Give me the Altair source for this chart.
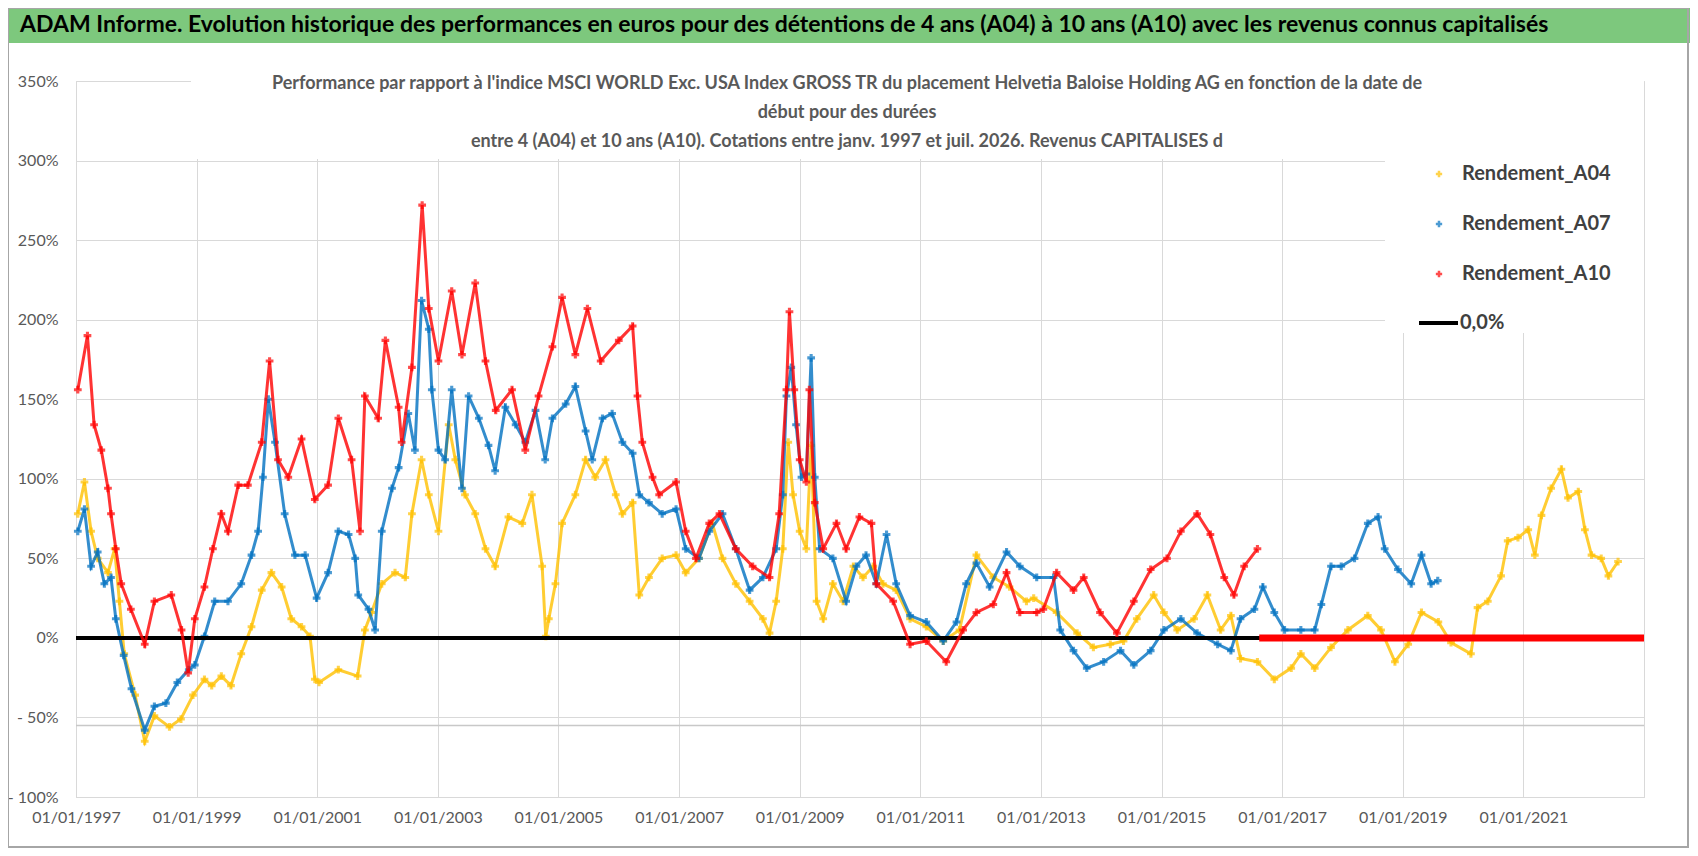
import altair as alt
import pandas as pd

# values: (decimal year, performance %)
A04 = [(1997.03, 78), (1997.14, 98), (1997.25, 67), (1997.36, 50), (1997.53, 41), (1997.64, 56),
       (1997.72, 23), (1997.80, -10), (1997.98, -36), (1998.14, -65), (1998.30, -49), (1998.55, -56),
       (1998.74, -51), (1998.94, -36), (1999.13, -26), (1999.25, -30), (1999.41, -24), (1999.57, -30),
       (1999.74, -10), (1999.91, 7), (2000.08, 30), (2000.24, 41), (2000.41, 32), (2000.57, 12),
       (2000.74, 7), (2000.88, 1), (2000.96, -26), (2001.03, -28), (2001.35, -20), (2001.67, -24),
       (2001.79, 5), (2001.90, 16), (2002.07, 34), (2002.29, 41), (2002.46, 38), (2002.57, 78),
       (2002.73, 112), (2002.85, 90), (2003.01, 67), (2003.18, 134), (2003.29, 112), (2003.45, 90),
       (2003.62, 78), (2003.79, 56), (2003.95, 45), (2004.17, 76), (2004.40, 72), (2004.56, 90),
       (2004.73, 45), (2004.79, 1), (2004.84, 12), (2004.95, 34), (2005.06, 72), (2005.28, 90),
       (2005.45, 112), (2005.61, 101), (2005.78, 112), (2005.95, 90), (2006.06, 78), (2006.23, 85),
       (2006.34, 27), (2006.50, 38), (2006.72, 50), (2006.95, 52), (2007.11, 41), (2007.33, 50),
       (2007.55, 72), (2007.72, 50), (2007.94, 34), (2008.17, 23), (2008.39, 12), (2008.50, 3),
       (2008.61, 23), (2008.72, 56), (2008.81, 123), (2008.89, 90), (2009.00, 67), (2009.11, 56),
       (2009.19, 121), (2009.28, 23), (2009.39, 12), (2009.55, 34), (2009.72, 23), (2009.89, 45),
       (2010.05, 38), (2010.22, 45), (2010.38, 34), (2010.60, 30), (2010.83, 12), (2011.10, 7),
       (2011.38, -2), (2011.65, 5), (2011.93, 52), (2012.21, 38), (2012.48, 32), (2012.76, 23),
       (2012.88, 25), (2013.26, 16), (2013.60, 3), (2013.87, -6), (2014.15, -4), (2014.37, -2),
       (2014.59, 12), (2014.87, 27), (2015.04, 16), (2015.26, 5), (2015.54, 12), (2015.76, 27),
       (2015.98, 5), (2016.15, 14), (2016.31, -13), (2016.59, -15), (2016.87, -26), (2017.15, -19),
       (2017.31, -10), (2017.54, -19), (2017.81, -6), (2018.09, 5), (2018.42, 14), (2018.64, 5),
       (2018.87, -15), (2019.09, -4), (2019.31, 16), (2019.59, 10), (2019.80, -3), (2020.13, -10),
       (2020.24, 19), (2020.41, 23), (2020.63, 39), (2020.74, 61), (2020.91, 63), (2021.08, 68),
       (2021.19, 52), (2021.30, 77), (2021.46, 94), (2021.63, 106), (2021.74, 88), (2021.91, 92),
       (2022.02, 68), (2022.13, 52), (2022.29, 50), (2022.41, 39), (2022.57, 48)]

A07 = [(1997.03, 67), (1997.14, 81), (1997.25, 45), (1997.36, 54), (1997.47, 34), (1997.58, 38),
       (1997.66, 12), (1997.79, -11), (1997.92, -32), (1998.14, -58), (1998.30, -43), (1998.49, -41),
       (1998.68, -28), (1998.87, -20), (1998.97, -17), (1999.13, 1), (1999.30, 23), (1999.52, 23),
       (1999.74, 34), (1999.91, 52), (2000.02, 67), (2000.10, 101), (2000.19, 150), (2000.30, 123),
       (2000.46, 78), (2000.63, 52), (2000.80, 52), (2000.99, 25), (2001.18, 41), (2001.35, 67),
       (2001.52, 65), (2001.63, 50), (2001.68, 27), (2001.85, 18), (2001.96, 5), (2002.07, 67),
       (2002.24, 94), (2002.35, 107), (2002.51, 141), (2002.62, 118), (2002.73, 212), (2002.85, 194),
       (2002.90, 156), (2003.01, 118), (2003.12, 112), (2003.23, 156), (2003.40, 94), (2003.51, 152),
       (2003.68, 138), (2003.84, 121), (2003.95, 105), (2004.12, 145), (2004.29, 134), (2004.45, 123),
       (2004.62, 143), (2004.78, 112), (2004.90, 138), (2005.12, 147), (2005.28, 158), (2005.45, 130),
       (2005.56, 112), (2005.73, 138), (2005.89, 141), (2006.06, 123), (2006.23, 116), (2006.34, 90),
       (2006.50, 85), (2006.72, 78), (2006.95, 81), (2007.11, 56), (2007.33, 50), (2007.50, 67),
       (2007.72, 78), (2007.94, 56), (2008.17, 30), (2008.39, 38), (2008.61, 56), (2008.72, 90),
       (2008.78, 152), (2008.86, 170), (2008.94, 134), (2009.03, 101), (2009.11, 103), (2009.19, 176),
       (2009.25, 101), (2009.33, 56), (2009.55, 50), (2009.77, 23), (2009.94, 45), (2010.10, 52),
       (2010.27, 34), (2010.44, 65), (2010.60, 34), (2010.83, 14), (2011.10, 10), (2011.38, -2),
       (2011.60, 10), (2011.76, 34), (2011.93, 47), (2012.15, 32), (2012.43, 54), (2012.65, 45),
       (2012.93, 38), (2013.21, 38), (2013.32, 5), (2013.54, -8), (2013.76, -19), (2014.04, -15),
       (2014.32, -8), (2014.54, -17), (2014.82, -8), (2015.04, 5), (2015.32, 12), (2015.59, 3),
       (2015.93, -4), (2016.15, -8), (2016.31, 12), (2016.54, 18), (2016.68, 32), (2016.87, 16),
       (2017.04, 5), (2017.31, 5), (2017.54, 5), (2017.65, 21), (2017.81, 45), (2017.98, 45),
       (2018.20, 50), (2018.42, 72), (2018.59, 76), (2018.70, 56), (2018.92, 43), (2019.14, 34),
       (2019.31, 52), (2019.47, 34), (2019.58, 36)]

A10 = [(1997.03, 156), (1997.19, 190), (1997.30, 134), (1997.42, 118), (1997.53, 94), (1997.58, 78),
       (1997.66, 56), (1997.75, 34), (1997.91, 18), (1998.14, -4), (1998.30, 23), (1998.58, 27),
       (1998.75, 5), (1998.86, -22), (1998.97, 12), (1999.13, 32), (1999.27, 56), (1999.41, 78),
       (1999.52, 67), (1999.69, 96), (1999.85, 96), (2000.08, 123), (2000.21, 174), (2000.35, 112),
       (2000.52, 101), (2000.74, 125), (2000.96, 87), (2001.18, 96), (2001.35, 138), (2001.57, 112),
       (2001.71, 67), (2001.79, 152), (2002.01, 138), (2002.13, 187), (2002.35, 145), (2002.40, 123),
       (2002.57, 170), (2002.74, 272), (2002.85, 207), (2003.01, 174), (2003.23, 218), (2003.40, 178),
       (2003.62, 223), (2003.79, 174), (2003.96, 143), (2004.23, 156), (2004.45, 118), (2004.67, 152),
       (2004.90, 183), (2005.06, 214), (2005.28, 178), (2005.48, 207), (2005.70, 174), (2006.00, 187),
       (2006.23, 196), (2006.31, 152), (2006.39, 123), (2006.56, 101), (2006.67, 90), (2006.95, 98),
       (2007.11, 67), (2007.28, 50), (2007.50, 72), (2007.67, 78), (2007.94, 56), (2008.22, 45),
       (2008.50, 38), (2008.66, 78), (2008.78, 156), (2008.83, 205), (2008.91, 156), (2009.00, 112),
       (2009.11, 98), (2009.16, 156), (2009.25, 85), (2009.39, 56), (2009.61, 72), (2009.77, 56),
       (2009.99, 76), (2010.19, 72), (2010.27, 34), (2010.55, 23), (2010.83, -4), (2011.10, -2),
       (2011.43, -15), (2011.71, 5), (2011.93, 16), (2012.21, 21), (2012.43, 41), (2012.65, 16),
       (2012.93, 16), (2013.04, 18), (2013.26, 41), (2013.54, 30), (2013.71, 38), (2013.98, 16),
       (2014.26, 3), (2014.54, 23), (2014.82, 43), (2015.09, 50), (2015.32, 67), (2015.59, 78),
       (2015.81, 65), (2016.04, 38), (2016.20, 27), (2016.37, 45), (2016.59, 56)]

# A10 has no value after mid 2016: drawn at 0 up to the end of the axis
A10_ZERO = [(2016.62, 2023.0)]
ZERO_LINE = [(1997.0, 2023.0)]

SERIES = ["Rendement_A04", "Rendement_A07", "Rendement_A10"]
COLORS = ["#FFC000", "#0070C0", "#FF0000"]

TITLE = ("ADAM Informe. Evolution historique des performances en euros pour des détentions "
         "de 4 ans (A04) à 10 ans (A10) avec les revenus connus capitalisés")
SUBTITLE = [
    "Performance par rapport à l'indice MSCI WORLD Exc. USA Index GROSS TR  du placement "
    "Helvetia Baloise Holding AG en fonction de la date de",
    "début pour des durées",
    "entre 4 (A04) et 10 ans (A10).  Cotations entre janv. 1997 et juil. 2026. Revenus CAPITALISES d",
]

FONT = "Lato"
W, H = 1568, 716

x_scale = alt.Scale(domain=[1997, 2023], nice=False, zero=False)
y_scale = alt.Scale(domain=[-100, 350], nice=False)

x_axis = alt.Axis(
    values=list(range(1997, 2024, 2)),
    labelExpr="datum.value == 2023 ? '' : '01/01/' + datum.value",
    labelOverlap=False, labelBound=False, labelFlush=False,
    title=None, grid=True, gridColor="#d9d9d9", ticks=False,
    domainColor="#d9d9d9", labelFont=FONT, labelFontSize=16,
    labelColor="#595959", labelPadding=12,
)
y_axis = alt.Axis(
    values=list(range(-100, 351, 50)),
    labelExpr="datum.value < 0 ? '- ' + abs(datum.value) + '%' : datum.value + '%'",
    labelOverlap=False,
    title=None, grid=True, gridColor="#d9d9d9", ticks=False,
    domainColor="#d9d9d9", labelFont=FONT, labelFontSize=16,
    labelColor="#595959", labelPadding=18,
)

X = alt.X("t:Q", scale=x_scale, axis=x_axis)
Y = alt.Y("v:Q", scale=y_scale, axis=y_axis)


def series_layers(points, color):
    df = pd.DataFrame(points, columns=["t", "v"])
    line = alt.Chart(df).mark_line(color=color, strokeWidth=3, opacity=0.8).encode(x=X, y=Y)
    pts = alt.Chart(df).mark_point(shape="cross", filled=True, size=60, color=color).encode(x=X, y=Y)
    return [line, pts]


def rule(spans, color, width):
    df = pd.DataFrame(spans, columns=["t", "t2"])
    df["v"] = 0
    return alt.Chart(df).mark_rule(color=color, strokeWidth=width).encode(x=X, x2="t2:Q", y=Y)


one = pd.DataFrame({"a": [0]})

# second grey line just under -50 %, as in the reference
extra_grid = alt.Chart(pd.DataFrame({"v": [-55]})).mark_rule(color="#c8c8c8", strokeWidth=1.5).encode(
    y=Y, x=alt.value(0), x2=alt.value(W))

# white boxes behind the subtitle and the legend
sub_box = alt.Chart(one).mark_rect(color="white").encode(
    x=alt.value(115), x2=alt.value(1300), y=alt.value(0), y2=alt.value(78))
leg_box = alt.Chart(one).mark_rect(color="white").encode(
    x=alt.value(1309), x2=alt.value(W), y=alt.value(0), y2=alt.value(252))

banner = alt.Chart(one).mark_rect(color="#7DC87D").encode(
    x=alt.value(-68), x2=alt.value(W + 46), y=alt.value(-73), y2=alt.value(-38))
banner_text = alt.Chart(one).mark_text(
    text=TITLE, font=FONT, fontSize=23, fontWeight="bold", color="black",
    align="left", baseline="middle").encode(x=alt.value(-56), y=alt.value(-56))
frame = alt.Chart(one).mark_rect(fill=None, stroke="#a6a6a6", strokeWidth=2).encode(
    x=alt.value(-68), x2=alt.value(W + 44), y=alt.value(-73), y2=alt.value(H + 50))

sub_layers = [
    alt.Chart(one).mark_text(text=line, font=FONT, fontSize=18, fontWeight="bold",
                             color="#595959", align="center", baseline="middle")
    .encode(x=alt.value(771), y=alt.value(y))
    for line, y in zip(SUBTITLE, [3, 32, 61])
]

legend_layers = []
for i, (name, color) in enumerate(zip(SERIES, COLORS)):
    yy = 93 + 50 * i
    legend_layers.append(alt.Chart(one).mark_point(shape="cross", filled=True, size=40, color=color)
                         .encode(x=alt.value(1363), y=alt.value(yy)))
    legend_layers.append(alt.Chart(one).mark_text(text=name, font=FONT, fontSize=20, fontWeight="bold",
                                                  color="#404040", align="left", baseline="middle")
                         .encode(x=alt.value(1386), y=alt.value(yy)))
legend_layers.append(alt.Chart(one).mark_rule(color="black", strokeWidth=4)
                     .encode(x=alt.value(1343), x2=alt.value(1382), y=alt.value(242)))
legend_layers.append(alt.Chart(one).mark_text(text="0,0%", font=FONT, fontSize=20, fontWeight="bold",
                                              color="#404040", align="left", baseline="middle")
                     .encode(x=alt.value(1384), y=alt.value(242)))

layers = []
layers += series_layers(A04, COLORS[0])
layers += series_layers(A07, COLORS[1])
layers.append(rule(ZERO_LINE, "black", 4))
layers += series_layers(A10, COLORS[2])
layers.append(rule(A10_ZERO, "#FF0000", 7))

chart = alt.layer(
    extra_grid, *layers, sub_box, leg_box, *sub_layers, *legend_layers,
    banner, banner_text, frame,
).properties(
    width=W, height=H, autosize="none",
    padding={"left": 68, "top": 73, "right": 46, "bottom": 52},
).configure_view(stroke=None).configure(background="white")

chart.save("out.html", embed_options={"renderer": "svg", "actions": False})
